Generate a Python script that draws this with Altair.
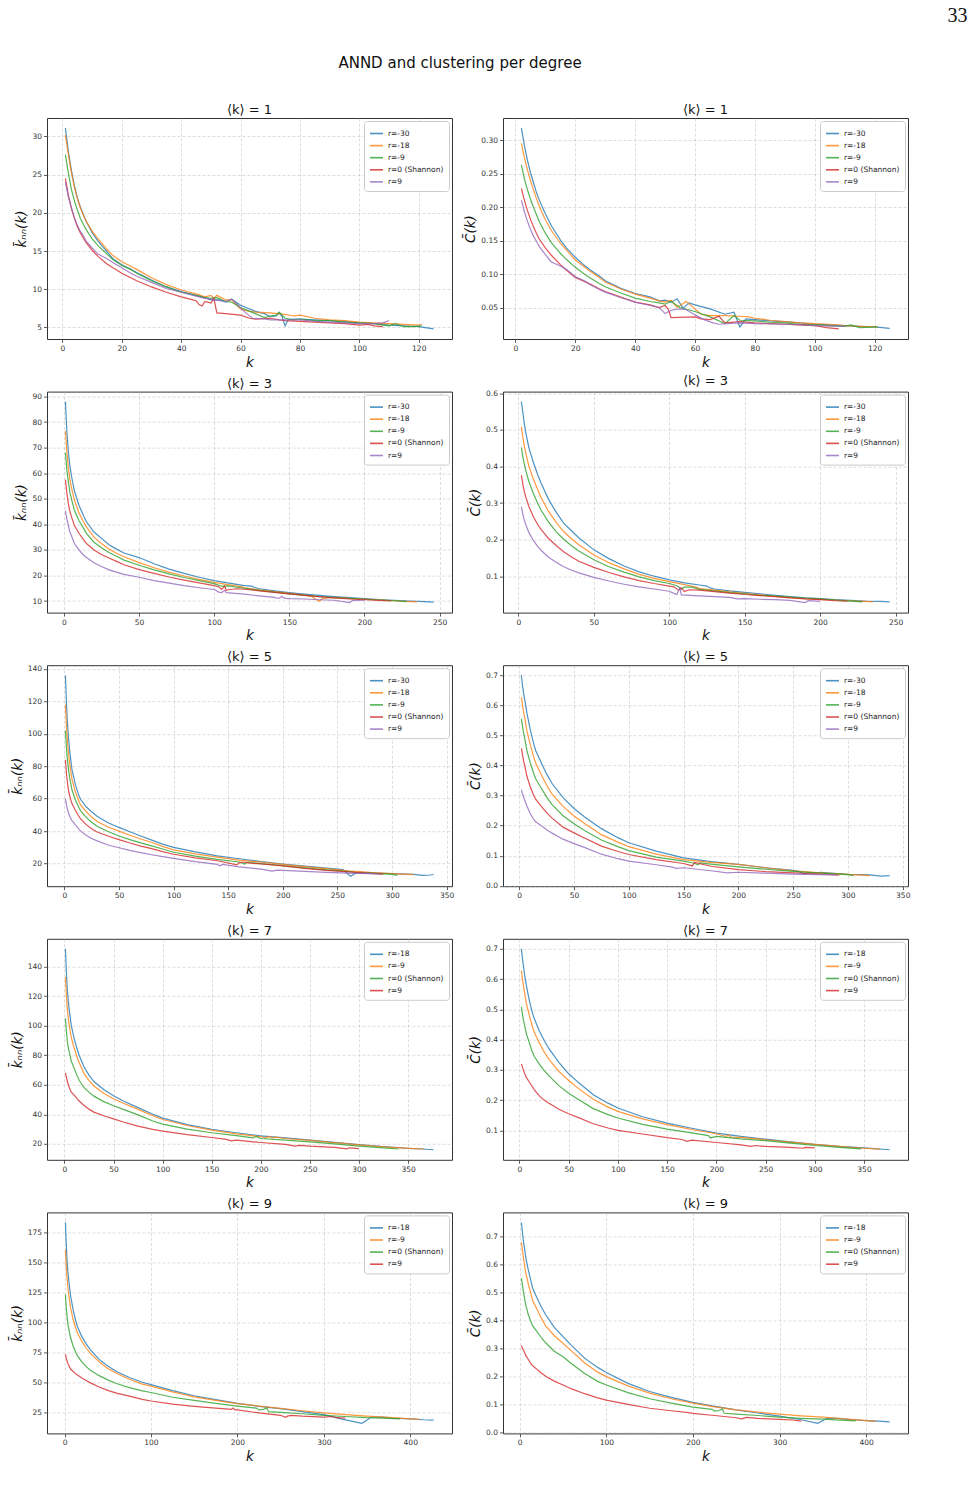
import altair as alt
import pandas as pd

# ---------------- data ----------------
LABELS5 = ["r=-30", "r=-18", "r=-9", "r=0 (Shannon)", "r=9"]
LABELS4 = ["r=-18", "r=-9", "r=0 (Shannon)", "r=9"]
COLORS = ["#1f77b4", "#ff7f0e", "#2ca02c", "#d62728", "#9467bd"]
PANEL_TITLES = ["⟨k⟩ = 1", "⟨k⟩ = 3", "⟨k⟩ = 5", "⟨k⟩ = 7", "⟨k⟩ = 9"]

# <k>=1, k_nn
A_R30 = [(1,31.1),(2,28.0),(3,25.6),(4,23.6),(5,22.0),(6,20.8),(7,19.8),(8,18.9),(10,17.4),(12,16.3),(15,14.9),(17,14.0),(20,13.2),(23,12.6),(25,12.2),(30,11.2),(35,10.3),(40,9.7),(45,9.2),(48,8.9),(50,8.6),(53,8.6),(55,8.3),(57,8.7),(60,7.9),(65,7.1),(68,6.8),(70,6.4),(72,6.5),(73,6.9),(74,6.4),(75,5.2),(76,6.0),(78,6.1),(80,6.1),(85,6.0),(90,5.9),(95,5.8),(100,5.6),(105,5.5),(110,5.3),(115,5.2),(120,5.1),(125,4.8)]
A_R18 = [(1,30.2),(2,27.6),(3,25.3),(4,23.4),(5,21.9),(6,20.7),(7,19.7),(8,18.9),(10,17.6),(12,16.6),(15,15.2),(17,14.4),(20,13.6),(23,13.0),(25,12.6),(30,11.5),(35,10.6),(40,9.9),(45,9.4),(48,9.0),(50,9.2),(51,8.8),(52,9.2),(55,8.6),(57,8.6),(60,7.4),(63,7.1),(65,7.0),(70,6.9),(75,6.7),(78,6.5),(80,6.6),(85,6.2),(90,6.0),(95,5.9),(100,5.7),(105,5.6),(110,5.5),(115,5.4),(120,5.3),(121,5.4)]
A_R9 = [(1,27.6),(2,25.2),(3,23.1),(4,21.6),(5,20.4),(6,19.3),(7,18.5),(8,17.8),(10,16.6),(12,15.7),(15,14.6),(17,13.9),(20,13.1),(23,12.6),(25,12.1),(30,11.1),(35,10.3),(40,9.6),(45,9.2),(48,8.9),(50,8.8),(52,8.9),(55,8.4),(57,8.3),(60,7.6),(65,6.8),(68,6.3),(70,6.5),(72,6.6),(73,7.0),(75,6.2),(78,6.0),(80,6.1),(85,5.9),(90,5.9),(95,5.7),(100,5.6),(105,5.5),(110,5.2),(112,5.5),(115,5.1),(118,5.1),(121,5.2)]
A_R0 = [(1,24.5),(2,22.3),(3,20.6),(4,19.3),(5,18.2),(6,17.4),(7,16.7),(8,16.1),(10,15.1),(12,14.3),(15,13.3),(17,12.8),(20,12.1),(23,11.5),(25,11.1),(30,10.3),(35,9.6),(40,9.0),(43,8.7),(45,8.5),(46,8.0),(47,7.8),(48,8.4),(50,8.2),(51,8.8),(52,6.9),(55,6.8),(60,6.6),(63,6.2),(65,6.1),(70,6.2),(73,6.0),(75,5.9),(80,5.8),(85,5.7),(90,5.6),(95,5.5),(100,5.3),(103,5.4),(105,5.2),(108,5.1)]
A_RP9 = [(1,24.0),(2,22.1),(3,20.7),(4,19.4),(5,18.4),(6,17.6),(7,17.0),(8,16.3),(10,15.4),(12,14.6),(15,14.0),(17,13.5),(20,12.8),(23,12.1),(25,11.7),(30,10.9),(35,10.1),(40,9.6),(45,9.1),(48,8.8),(50,8.7),(53,8.5),(55,8.4),(57,8.7),(60,7.6),(62,6.8),(64,6.2),(68,6.1),(70,6.0),(75,6.0),(80,6.0),(85,5.8),(90,5.7),(95,5.6),(100,5.5),(105,5.5),(108,5.6),(110,5.9)]

# <k>=1, C
B_R30 = [(2,0.318),(3,0.292),(4,0.27),(5,0.252),(6,0.237),(7,0.222),(8,0.21),(10,0.19),(12,0.172),(13,0.165),(15,0.151),(17,0.139),(20,0.125),(23,0.113),(25,0.106),(28,0.097),(30,0.09),(35,0.079),(40,0.071),(45,0.066),(48,0.06),(50,0.061),(52,0.058),(54,0.063),(56,0.049),(58,0.057),(60,0.054),(65,0.048),(70,0.04),(73,0.043),(75,0.021),(77,0.033),(80,0.032),(85,0.03),(90,0.029),(95,0.027),(100,0.025),(105,0.024),(110,0.023),(115,0.022),(120,0.021),(125,0.019)]
B_R18 = [(2,0.295),(3,0.274),(4,0.256),(5,0.24),(6,0.226),(7,0.213),(8,0.201),(10,0.181),(12,0.165),(15,0.146),(17,0.136),(20,0.121),(23,0.111),(25,0.104),(28,0.095),(30,0.088),(35,0.078),(40,0.07),(45,0.064),(48,0.06),(50,0.058),(52,0.061),(54,0.05),(57,0.059),(60,0.048),(62,0.04),(65,0.038),(70,0.038),(75,0.037),(78,0.036),(80,0.034),(85,0.031),(90,0.029),(95,0.027),(100,0.026),(105,0.025),(110,0.023),(115,0.022),(121,0.021)]
B_R9 = [(2,0.263),(3,0.242),(4,0.226),(5,0.212),(6,0.2),(7,0.189),(8,0.178),(10,0.161),(12,0.147),(15,0.131),(17,0.122),(20,0.11),(23,0.1),(25,0.094),(28,0.086),(30,0.081),(35,0.072),(40,0.064),(45,0.059),(48,0.057),(50,0.055),(52,0.059),(55,0.05),(60,0.044),(65,0.036),(70,0.026),(73,0.038),(75,0.031),(80,0.03),(85,0.028),(90,0.027),(95,0.025),(100,0.024),(105,0.023),(110,0.022),(112,0.024),(115,0.02),(121,0.021)]
B_R0 = [(2,0.228),(3,0.21),(4,0.195),(5,0.182),(6,0.171),(7,0.161),(8,0.152),(10,0.139),(12,0.128),(15,0.114),(17,0.106),(20,0.095),(23,0.089),(25,0.085),(28,0.078),(30,0.074),(35,0.066),(40,0.058),(45,0.054),(48,0.05),(50,0.053),(51,0.048),(52,0.035),(60,0.036),(62,0.033),(65,0.032),(68,0.037),(70,0.027),(75,0.029),(80,0.027),(85,0.026),(90,0.025),(95,0.024),(100,0.023),(104,0.02),(108,0.018)]
B_RP9 = [(2,0.21),(3,0.193),(4,0.179),(5,0.167),(6,0.157),(7,0.149),(8,0.141),(10,0.129),(12,0.118),(15,0.112),(17,0.107),(20,0.096),(23,0.09),(25,0.084),(28,0.077),(30,0.073),(35,0.065),(40,0.058),(45,0.053),(48,0.05),(50,0.041),(52,0.046),(55,0.048),(57,0.047),(60,0.039),(63,0.032),(66,0.027),(68,0.025),(75,0.027),(80,0.026),(90,0.025),(100,0.023),(110,0.022)]

# <k>=3, k_nn
C_R30 = [(1,88),(2,76),(3,68),(4,63),(5,59),(7,53),(10,47.5),(13,43.5),(15,41),(20,37),(25,34.5),(30,32),(35,30.3),(40,28.8),(50,27),(60,24.6),(70,22.5),(80,20.8),(90,19.3),(100,18),(110,17),(120,16),(125,15.8),(127,15.3),(130,14.8),(140,14),(150,13.3),(160,12.7),(170,12.2),(180,11.7),(190,11.3),(200,10.9),(210,10.6),(220,10.3),(230,10.0),(240,9.8),(246,9.6)]
C_R18 = [(1,76.5),(2,68),(3,62),(4,57.5),(5,54.5),(7,49.5),(10,44.5),(13,41),(15,39),(20,35),(25,32.5),(30,30.3),(35,28.7),(40,27.3),(50,25),(60,23),(70,21.3),(80,19.8),(90,18.5),(100,17.3),(110,16.3),(118,15.6),(120,15.2),(130,14.4),(140,13.7),(150,13),(160,12.3),(165,11.8),(168,10.5),(170,9.9),(172,11.0),(180,11.4),(190,11.0),(200,10.8),(210,10.5),(220,10.1),(230,9.8),(235,9.7)]
C_R9 = [(1,68),(2,61),(3,56.5),(4,52.5),(5,50),(7,45.5),(10,41.5),(13,38.5),(15,36.5),(20,33),(25,30.8),(30,29),(35,27.5),(40,26),(50,24),(60,22.2),(70,20.6),(80,19.2),(90,18),(100,16.8),(105,15.8),(110,15.9),(115,15.4),(120,15.0),(130,14.2),(140,13.5),(150,12.8),(160,12.3),(170,11.7),(180,11.3),(190,11.0),(200,10.7),(210,10.4),(220,10.1),(228,9.8)]
C_R0 = [(1,57.5),(2,52),(3,48),(4,45),(5,43),(7,39.5),(10,36.5),(13,34),(15,32.5),(20,30),(25,28.2),(30,26.8),(35,25.5),(40,24.2),(50,22.3),(60,20.8),(70,19.4),(80,18.2),(90,17.1),(100,16),(103,15.6),(105,14.5),(107,15.8),(108,14.2),(110,14.5),(115,14.8),(120,14.6),(130,14.0),(140,13.4),(150,12.8),(160,12.2),(170,11.7),(180,11.2),(190,10.8),(200,10.5),(210,10.2),(218,10.0)]
C_RP9 = [(1,45.3),(2,42),(3,39.5),(4,37),(5,35.5),(7,32.5),(10,30),(13,28),(15,27),(20,25),(25,23.5),(30,22.2),(35,21.3),(40,20.4),(50,19.3),(60,18),(70,17),(80,16),(90,15.2),(100,14.5),(103,13.5),(105,13.3),(107,14.2),(108,13.3),(110,13.2),(120,12.7),(130,12.0),(140,11.4),(143,11.0),(145,11.8),(147,11.0),(150,10.9),(160,10.8),(170,10.5),(180,10.3),(190,9.4),(192,10.2),(200,10.3)]

# <k>=3, C
D_R30 = [(2,0.577),(3,0.545),(4,0.515),(5,0.49),(7,0.45),(10,0.41),(13,0.375),(15,0.355),(20,0.31),(25,0.275),(30,0.245),(35,0.225),(40,0.205),(50,0.172),(60,0.148),(70,0.128),(80,0.112),(90,0.1),(100,0.09),(110,0.082),(120,0.076),(125,0.073),(127,0.068),(130,0.065),(140,0.06),(150,0.056),(160,0.052),(170,0.048),(180,0.044),(190,0.041),(200,0.039),(210,0.036),(220,0.034),(230,0.032),(240,0.031),(246,0.03)]
D_R18 = [(2,0.508),(3,0.478),(4,0.454),(5,0.434),(7,0.4),(10,0.365),(13,0.335),(15,0.315),(20,0.277),(25,0.247),(30,0.222),(35,0.203),(40,0.186),(50,0.158),(60,0.137),(70,0.12),(80,0.105),(90,0.094),(100,0.085),(110,0.077),(118,0.07),(120,0.066),(130,0.062),(140,0.057),(150,0.053),(160,0.049),(170,0.045),(180,0.042),(190,0.039),(200,0.037),(210,0.035),(220,0.033),(230,0.031),(235,0.03)]
D_R9 = [(2,0.452),(3,0.425),(4,0.405),(5,0.388),(7,0.358),(10,0.325),(13,0.297),(15,0.281),(20,0.248),(25,0.222),(30,0.201),(35,0.184),(40,0.169),(50,0.145),(60,0.126),(70,0.111),(80,0.098),(90,0.088),(100,0.08),(105,0.074),(108,0.065),(110,0.07),(115,0.07),(120,0.064),(130,0.06),(140,0.055),(150,0.052),(160,0.048),(170,0.046),(180,0.043),(190,0.04),(200,0.038),(210,0.035),(220,0.032),(228,0.03)]
D_R0 = [(2,0.376),(3,0.35),(4,0.33),(5,0.315),(7,0.29),(10,0.262),(13,0.24),(15,0.228),(20,0.203),(25,0.184),(30,0.167),(35,0.153),(40,0.141),(50,0.124),(60,0.11),(70,0.098),(80,0.088),(90,0.08),(100,0.073),(103,0.071),(106,0.062),(108,0.068),(110,0.058),(113,0.063),(120,0.062),(130,0.058),(140,0.054),(150,0.05),(160,0.047),(170,0.044),(180,0.041),(190,0.038),(200,0.036),(210,0.033),(218,0.032)]
D_RP9 = [(2,0.29),(3,0.268),(4,0.252),(5,0.24),(7,0.219),(10,0.197),(13,0.18),(15,0.171),(20,0.152),(25,0.138),(30,0.126),(35,0.117),(40,0.109),(50,0.097),(60,0.087),(70,0.078),(80,0.071),(90,0.065),(100,0.059),(103,0.053),(105,0.05),(107,0.068),(108,0.049),(120,0.046),(130,0.044),(140,0.042),(145,0.038),(150,0.039),(160,0.037),(170,0.036),(180,0.034),(190,0.028),(192,0.033),(200,0.031)]

# <k>=5, k_nn
E_R30 = [(1,136),(2,118),(3,105),(4,96),(5,89),(7,78),(10,69),(13,62.5),(15,59.5),(20,55),(25,52),(30,49.2),(40,45.2),(50,42.3),(60,39.6),(70,37),(80,34.5),(90,32),(100,30),(120,27.2),(140,24.8),(160,23),(180,21.3),(200,19.8),(220,18.5),(240,17.3),(255,16.3),(258,14.5),(262,12.3),(266,13.8),(270,15),(275,14.3),(280,14.2),(300,13.8),(320,13.4),(328,12.8),(335,13),(338,13.3)]
E_R18 = [(1,118),(2,104),(3,94),(4,87),(5,81),(7,72),(10,64.5),(13,59),(15,56),(20,52),(25,48.7),(30,46),(40,42.6),(50,40),(60,37.5),(70,35.2),(80,33),(90,30.6),(100,28.5),(120,26),(140,24),(160,22.2),(175,21.3),(180,21),(200,19.6),(220,18.2),(240,16.9),(260,15.6),(280,14.6),(300,13.9),(320,13.3)]
E_R9 = [(1,102),(2,91),(3,83),(4,77),(5,72.5),(7,65.5),(10,59.5),(13,55),(15,52.5),(20,48.5),(25,45.5),(30,43),(40,39.8),(50,37),(60,34.8),(70,32.8),(80,30.9),(90,29),(100,27),(120,24.6),(140,22.6),(160,21),(165,19.8),(168,21),(180,20),(200,18.8),(220,17.4),(240,16.2),(260,15.2),(270,14.2),(280,14.3),(300,13.4),(305,12.8)]
E_R0 = [(1,84),(2,75),(3,69),(4,64.5),(5,61.5),(7,57),(10,53),(13,49.5),(15,47.5),(20,44),(25,41.5),(30,39.5),(40,37),(50,34.8),(60,32.7),(70,30.8),(80,29.2),(90,27.4),(100,25.8),(120,23.5),(140,21.8),(158,19.2),(160,20.5),(163,21),(170,20.3),(180,19.8),(200,18.6),(220,17.1),(240,15.8),(260,14.9),(280,14),(292,13.5)]
E_RP9 = [(1,60),(2,56),(3,53),(4,51),(5,49),(7,46.5),(10,44),(13,41.5),(15,40),(20,37.5),(25,35.5),(30,34),(40,31.5),(50,29.8),(60,28.2),(70,26.8),(80,25.5),(90,24.3),(100,23.2),(120,21.2),(140,19.6),(142,18.6),(145,19.5),(160,18),(180,16.6),(190,15.4),(195,16),(200,15.8),(220,15.2),(240,14.6),(260,14.2),(270,14),(280,13.8),(290,13.6)]

# <k>=5, C
F_R30 = [(2,0.70),(3,0.665),(4,0.64),(5,0.62),(7,0.575),(10,0.52),(13,0.475),(15,0.45),(20,0.41),(25,0.372),(30,0.34),(40,0.293),(50,0.257),(60,0.228),(75,0.19),(90,0.16),(100,0.143),(125,0.115),(150,0.093),(175,0.08),(200,0.071),(225,0.06),(250,0.051),(255,0.048),(260,0.04),(265,0.045),(270,0.042),(275,0.045),(300,0.038),(320,0.036),(330,0.032),(338,0.034)]
F_R18 = [(2,0.627),(3,0.6),(4,0.577),(5,0.56),(7,0.515),(10,0.47),(13,0.43),(15,0.408),(20,0.37),(25,0.335),(30,0.305),(40,0.264),(50,0.232),(60,0.206),(75,0.17),(90,0.145),(100,0.13),(125,0.105),(150,0.087),(175,0.078),(200,0.071),(225,0.06),(250,0.05),(275,0.043),(300,0.038),(320,0.034)]
F_R9 = [(2,0.555),(3,0.53),(4,0.508),(5,0.49),(7,0.45),(10,0.41),(13,0.376),(15,0.356),(20,0.325),(25,0.295),(30,0.27),(40,0.233),(50,0.206),(60,0.183),(75,0.152),(90,0.13),(100,0.117),(125,0.095),(150,0.082),(160,0.075),(163,0.07),(165,0.076),(175,0.072),(200,0.063),(225,0.055),(250,0.048),(275,0.042),(300,0.037),(305,0.034)]
F_R0 = [(2,0.457),(3,0.435),(4,0.415),(5,0.40),(7,0.365),(10,0.33),(13,0.303),(15,0.288),(20,0.265),(25,0.243),(30,0.225),(40,0.195),(50,0.176),(60,0.158),(75,0.132),(90,0.114),(100,0.104),(125,0.087),(150,0.074),(158,0.066),(160,0.078),(175,0.065),(200,0.054),(225,0.047),(250,0.043),(270,0.04),(292,0.035)]
F_RP9 = [(2,0.32),(3,0.305),(4,0.295),(5,0.285),(7,0.265),(10,0.24),(13,0.222),(15,0.213),(20,0.2),(25,0.186),(30,0.175),(40,0.155),(50,0.14),(60,0.127),(75,0.105),(90,0.09),(100,0.082),(125,0.07),(140,0.062),(143,0.058),(150,0.06),(175,0.05),(190,0.043),(200,0.045),(225,0.042),(250,0.039),(270,0.037),(290,0.036)]

# <k>=7, k_nn
G_R18 = [(1,152),(2,136),(3,124),(4,116),(5,110),(7,100),(10,91),(13,84),(15,80),(20,72),(25,66.5),(30,62.2),(40,56.8),(50,52.5),(60,49),(75,44.5),(90,40),(100,37.4),(125,33),(150,29.9),(175,27.5),(200,25.4),(225,24),(250,22.5),(275,21),(300,19.5),(325,18.2),(350,17),(365,16.5),(376,16)]
G_R9 = [(1,133),(2,120),(3,111),(4,105),(5,100),(7,92),(10,84.5),(13,78.5),(15,75),(20,67.5),(25,63),(30,59.2),(40,54.3),(50,50.5),(60,47.5),(75,43.3),(90,39),(100,36.5),(125,32.4),(150,29.3),(175,26.8),(200,24.8),(205,24),(208,25),(212,24),(215,24.5),(225,23.6),(250,22.3),(275,20.8),(300,19.3),(325,18),(350,17),(366,16.5)]
G_R0 = [(1,105),(2,96),(3,89),(4,85),(5,82),(7,76),(10,71),(13,66),(15,63),(20,58),(25,55),(30,52.3),(40,48.6),(50,45.8),(60,43.3),(75,39.6),(90,35.5),(100,33.4),(125,30),(150,27.5),(175,25.5),(192,24),(195,25),(200,23.6),(225,22.5),(250,21.4),(275,20),(300,18.4),(325,17.3),(340,16.5)]
G_RP9 = [(1,68),(2,65),(3,62),(4,60),(5,58),(7,55),(10,53),(13,50.5),(15,49),(20,46),(25,43.5),(30,41.5),(40,39),(50,36.9),(60,34.8),(75,32),(90,29.8),(100,28.6),(125,26.2),(150,24.3),(165,23),(170,22),(175,22.5),(200,20.9),(225,19.6),(235,18.5),(240,19),(250,18.4),(275,17.6),(288,16.6),(290,17.3),(300,16.8)]

# <k>=7, C
H_R18 = [(2,0.70),(3,0.67),(4,0.645),(5,0.62),(7,0.58),(10,0.53),(13,0.49),(15,0.47),(20,0.43),(25,0.398),(30,0.37),(40,0.325),(50,0.287),(60,0.258),(75,0.218),(90,0.19),(100,0.174),(125,0.145),(150,0.124),(175,0.107),(200,0.091),(225,0.08),(250,0.071),(275,0.062),(300,0.054),(325,0.047),(350,0.042),(376,0.036)]
H_R9 = [(2,0.628),(3,0.6),(4,0.58),(5,0.56),(7,0.52),(10,0.48),(13,0.445),(15,0.425),(20,0.39),(25,0.36),(30,0.335),(40,0.295),(50,0.265),(60,0.238),(75,0.203),(90,0.177),(100,0.163),(125,0.138),(150,0.119),(175,0.103),(200,0.089),(205,0.084),(210,0.08),(212,0.085),(215,0.078),(225,0.077),(250,0.069),(275,0.061),(300,0.054),(325,0.047),(350,0.041),(366,0.038)]
H_R0 = [(2,0.508),(3,0.485),(4,0.465),(5,0.45),(7,0.42),(10,0.39),(13,0.36),(15,0.345),(20,0.32),(25,0.298),(30,0.28),(40,0.248),(50,0.223),(60,0.202),(75,0.172),(90,0.152),(100,0.141),(125,0.12),(150,0.104),(175,0.092),(192,0.083),(194,0.075),(200,0.08),(225,0.072),(250,0.066),(275,0.058),(300,0.05),(325,0.044),(347,0.039)]
H_RP9 = [(2,0.32),(3,0.31),(4,0.3),(5,0.29),(7,0.275),(10,0.26),(13,0.245),(15,0.235),(20,0.215),(25,0.2),(30,0.19),(40,0.17),(50,0.155),(60,0.142),(75,0.122),(90,0.108),(100,0.1),(125,0.088),(150,0.076),(165,0.07),(170,0.064),(175,0.068),(200,0.06),(225,0.052),(235,0.047),(240,0.05),(250,0.047),(275,0.044),(288,0.041),(290,0.044),(300,0.042)]

# <k>=9, k_nn
I_R18 = [(1,183),(2,165),(3,150),(4,141),(5,134),(7,122),(10,110),(13,101),(15,96),(20,88),(25,82),(30,77),(40,69),(50,63.5),(60,59),(75,54),(90,50),(100,48),(125,43),(150,38.8),(175,35.5),(200,32.5),(225,30),(250,28),(275,25.5),(300,23),(320,19.5),(344,15.8),(350,18.5),(355,21),(367,21),(380,20.2),(400,19.5),(415,18.8),(427,18.5)]
I_R9 = [(1,160),(2,146),(3,136),(4,128),(5,122),(7,112),(10,102),(13,95),(15,91),(20,84),(25,78.5),(30,74),(40,67),(50,61.5),(60,57.5),(75,52.5),(90,48.5),(100,46.8),(125,42),(150,37.8),(175,35),(200,32.2),(225,30.2),(250,28.3),(275,26.3),(300,24.5),(325,23),(350,21.8),(375,20.7),(400,19.6),(411,19.2)]
I_R0 = [(1,123),(2,112),(3,104),(4,98),(5,94),(7,87),(10,80),(13,75),(15,72),(20,67),(25,63),(30,60),(40,55.5),(50,52),(60,49),(75,45.5),(90,42.8),(100,41.5),(125,37.5),(150,35),(175,32.5),(200,30.2),(222,28.5),(225,27),(230,27.5),(234,28.5),(236,25.5),(250,25),(275,23.8),(300,22.5),(325,21.5),(350,20.5),(375,20),(388,19.5)]
I_RP9 = [(1,73.3),(2,70),(3,67.5),(4,65.5),(5,64),(7,61),(10,59),(13,57),(15,56),(20,53.5),(25,51.5),(30,49.5),(40,46),(50,43.2),(60,41),(75,38.5),(90,35.8),(100,34.4),(125,31.8),(150,30),(175,28.5),(193,27.5),(195,28.5),(197,27),(200,27),(225,24.5),(250,22.5),(256,20.8),(258,21.8),(262,22.5),(275,21.8),(300,21),(310,21.5),(315,20.5),(325,20.2)]

# <k>=9, C
J_R18 = [(2,0.75),(3,0.72),(4,0.69),(5,0.67),(7,0.625),(10,0.58),(13,0.54),(15,0.515),(20,0.48),(25,0.448),(30,0.42),(40,0.375),(50,0.342),(60,0.31),(75,0.265),(90,0.232),(100,0.214),(125,0.175),(150,0.146),(175,0.125),(200,0.107),(225,0.093),(250,0.08),(275,0.069),(300,0.058),(325,0.045),(344,0.032),(350,0.042),(355,0.05),(367,0.05),(380,0.046),(400,0.042),(415,0.04),(427,0.037)]
J_R9 = [(2,0.68),(3,0.655),(4,0.63),(5,0.61),(7,0.57),(10,0.53),(13,0.495),(15,0.47),(20,0.44),(25,0.408),(30,0.38),(40,0.345),(50,0.318),(60,0.29),(75,0.248),(90,0.215),(100,0.199),(125,0.166),(150,0.14),(175,0.12),(200,0.104),(225,0.091),(250,0.08),(275,0.072),(300,0.065),(325,0.059),(350,0.054),(375,0.048),(400,0.042),(411,0.039)]
J_R0 = [(2,0.55),(3,0.53),(4,0.51),(5,0.49),(7,0.455),(10,0.42),(13,0.395),(15,0.38),(20,0.36),(25,0.338),(30,0.32),(40,0.29),(50,0.27),(60,0.245),(75,0.21),(90,0.182),(100,0.169),(125,0.142),(150,0.12),(175,0.104),(200,0.09),(222,0.082),(225,0.076),(230,0.078),(234,0.083),(236,0.068),(250,0.065),(275,0.06),(300,0.054),(325,0.05),(350,0.047),(375,0.043),(388,0.041)]
J_RP9 = [(2,0.31),(3,0.302),(4,0.295),(5,0.29),(7,0.275),(10,0.26),(13,0.245),(15,0.238),(20,0.225),(25,0.212),(30,0.2),(40,0.183),(50,0.169),(60,0.155),(75,0.138),(90,0.123),(100,0.115),(125,0.1),(150,0.086),(175,0.077),(195,0.07),(200,0.068),(225,0.06),(250,0.052),(256,0.048),(262,0.053),(275,0.05),(300,0.046),(315,0.044),(325,0.04)]

# axis tick values
X_TICKS = [[0,20,40,60,80,100,120],[0,50,100,150,200,250],[0,50,100,150,200,250,300,350],[0,50,100,150,200,250,300,350],[0,100,200,300,400]]
KNN_TICKS = [[5,10,15,20,25,30],[10,20,30,40,50,60,70,80,90],[20,40,60,80,100,120,140],[20,40,60,80,100,120,140],[25,50,75,100,125,150,175]]
C_TICKS = [[0.05,0.10,0.15,0.20,0.25,0.30],[0.0,0.1,0.2,0.3,0.4,0.5,0.6],[0.0,0.1,0.2,0.3,0.4,0.5,0.6,0.7],[0.1,0.2,0.3,0.4,0.5,0.6,0.7],[0.0,0.1,0.2,0.3,0.4,0.5,0.6,0.7]]
C_FMT = [".2f", ".1f", ".1f", ".1f", ".1f"]

KNN_TITLE = "k̄ₙₙ(k)"
C_TITLE = "C̄(k)"

FONT = "DejaVu Sans"
PW, PH = 405, 221


def panel(series, labels, title, ytitle, xticks, yticks, yfmt):
    rows = []
    for lab, pts in zip(labels, series):
        for k, v in pts:
            rows.append({"k": k, "v": v, "s": lab})
    df = pd.DataFrame(rows)
    kmin, kmax = float(df.k.min()), float(df.k.max())
    vmin, vmax = float(df.v.min()), float(df.v.max())
    dk, dv = 0.05 * (kmax - kmin), 0.05 * (vmax - vmin)
    return alt.Chart(df).mark_line(strokeWidth=1.2, opacity=0.8, clip=True).encode(
        x=alt.X("k:Q",
                scale=alt.Scale(domain=[kmin - dk, kmax + dk], nice=False, zero=False),
                axis=alt.Axis(values=xticks, title="k", format="d", labelFlush=False)),
        y=alt.Y("v:Q",
                scale=alt.Scale(domain=[vmin - dv, vmax + dv], nice=False, zero=False),
                axis=alt.Axis(values=yticks, title=ytitle, format=yfmt)),
        color=alt.Color("s:N",
                        scale=alt.Scale(domain=labels, range=COLORS[:len(labels)]),
                        legend=alt.Legend(title=None, orient="top-right", offset=3,
                                          padding=5, fillColor="white",
                                          strokeColor="#cccccc", cornerRadius=3,
                                          symbolType="stroke", symbolSize=170,
                                          symbolStrokeWidth=1.6, symbolOpacity=0.8,
                                          labelFontSize=7.5, labelFont=FONT,
                                          labelColor="#222", rowPadding=1.1)),
    ).properties(width=PW, height=PH,
                 title=alt.TitleParams(title, fontSize=13, font=FONT,
                                       fontWeight="normal", offset=1, color="#111"))


KNN_SERIES = [
    [A_R30, A_R18, A_R9, A_R0, A_RP9],
    [C_R30, C_R18, C_R9, C_R0, C_RP9],
    [E_R30, E_R18, E_R9, E_R0, E_RP9],
    [G_R18, G_R9, G_R0, G_RP9],
    [I_R18, I_R9, I_R0, I_RP9],
]
C_SERIES = [
    [B_R30, B_R18, B_R9, B_R0, B_RP9],
    [D_R30, D_R18, D_R9, D_R0, D_RP9],
    [F_R30, F_R18, F_R9, F_R0, F_RP9],
    [H_R18, H_R9, H_R0, H_RP9],
    [J_R18, J_R9, J_R0, J_RP9],
]

panels = []
for i in range(5):
    labels = LABELS5 if i < 3 else LABELS4
    panels.append(panel(KNN_SERIES[i], labels, PANEL_TITLES[i], KNN_TITLE,
                        X_TICKS[i], KNN_TICKS[i], "d"))
    panels.append(panel(C_SERIES[i], labels, PANEL_TITLES[i], C_TITLE,
                        X_TICKS[i], C_TICKS[i], C_FMT[i]))

grid = alt.concat(*panels, columns=2, spacing={"row": 52.6, "column": 51},
                  bounds="flush",
                  title=alt.TitleParams("ANND and clustering per degree", fontSize=15,
                                        font=FONT, fontWeight="normal", anchor="middle",
                                        offset=32.5, color="#111")
                  ).resolve_scale(color="independent").resolve_legend(color="independent")

chart = alt.vconcat(grid,
                    title=alt.TitleParams("33", fontSize=20, font="Liberation Serif",
                                          fontWeight="normal", anchor="end", dx=57,
                                          offset=30, color="#111")
                    ).resolve_scale(color="independent").resolve_legend(color="independent")

chart = chart.properties(
    padding={"left": 9, "top": 6, "right": 4, "bottom": 4},
    background="white",
).configure_view(stroke="#333", strokeWidth=1).configure_axis(
    grid=True, gridDash=[3, 2], gridColor="#b8b8b8", gridOpacity=0.8, gridWidth=0.6,
    domain=False, tickColor="#333", tickSize=3.5, tickWidth=0.8,
    labelFontSize=7.5, labelColor="#333", labelFont=FONT, labelPadding=2,
    titleFontSize=13.5, titleFont=FONT, titleFontStyle="italic",
    titleFontWeight="normal", titleColor="#111", titlePadding=3,
).configure_title(font=FONT)

chart.save("out.html", embed_options={"renderer": "svg", "actions": False})
